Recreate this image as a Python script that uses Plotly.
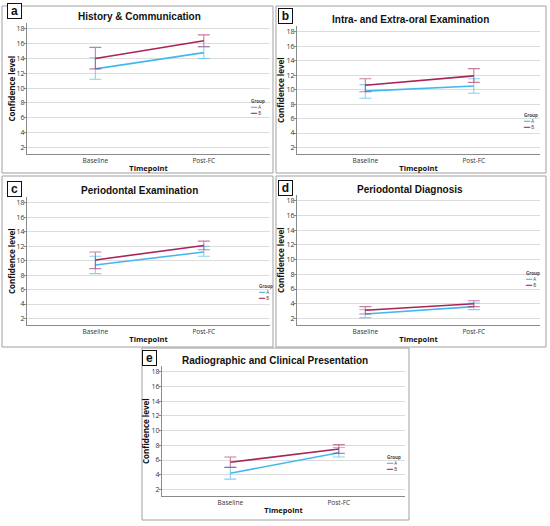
import plotly.graph_objects as go

# Confidence level, means and 95% CI
timepoints = ["Baseline", "Post-FC"]
titles = ["History & Communication", "Intra- and Extra-oral Examination",
          "Periodontal Examination", "Periodontal Diagnosis",
          "Radiographic and Clinical Presentation"]
letters = ["a", "b", "c", "d", "e"]

mean_a = [[12.6, 14.8], [9.8, 10.5], [9.4, 11.2], [2.6, 3.6], [4.2, 7.0]]
low_a = [[11.2, 14.0], [8.8, 9.5], [8.2, 10.6], [2.1, 3.2], [3.4, 6.4]]
high_a = [[14.1, 15.6], [10.7, 11.5], [10.6, 12.0], [3.2, 4.1], [5.0, 7.7]]

mean_b = [[14.0, 16.4], [10.6, 11.9], [10.1, 12.1], [3.1, 4.0], [5.7, 7.5]]
low_b = [[12.6, 15.6], [9.7, 11.0], [8.9, 11.5], [2.6, 3.6], [5.0, 6.9]]
high_b = [[15.5, 17.2], [11.5, 12.9], [11.2, 12.7], [3.6, 4.4], [6.4, 8.1]]

yticks = [2, 4, 6, 8, 10, 12, 14, 16, 18]

W, H = 550, 526
BLUE = "#44B8EE"
RED = "#A8245A"

# plot boxes in pixels: left, right, top, bottom
boxes = [(27, 270, 23, 154), (297, 540, 26, 154), (27, 270, 197, 325),
         (297, 540, 195, 325), (162, 405, 366, 496)]
frames = [(2, 273, 6, 173), (276, 546, 6, 173), (2, 273, 176, 347),
          (276, 546, 176, 347), (142, 409, 348, 520)]
title_pos = [(140, 16), (410, 20), (140, 190), (410, 189), (275, 360)]
letter_pos = [(14, 11), (285, 16), (14, 189), (285, 188), (149, 358)]
legend_pos = [(248, 99), (521, 113), (256, 284), (523, 271), (384, 455)]
ytitle_x = [11, 280, 11, 280, 145]


def px(x):
    return x / W


def py(y):
    return 1 - y / H


fig = go.Figure()
annotations = []
shapes = []

for i in range(5):
    xa = "x" if i == 0 else f"x{i + 1}"
    ya = "y" if i == 0 else f"y{i + 1}"
    for mean, low, high, color, err in [
        (mean_a[i], low_a[i], high_a[i], BLUE, "rgba(68,184,238,0.65)"),
        (mean_b[i], low_b[i], high_b[i], RED, "rgba(168,36,90,0.6)"),
    ]:
        fig.add_trace(go.Scatter(
            x=timepoints, y=mean, mode="lines", xaxis=xa, yaxis=ya,
            line=dict(color=color, width=1.6), showlegend=False,
            error_y=dict(type="data", symmetric=False,
                         array=[h - m for h, m in zip(high, mean)],
                         arrayminus=[m - l for m, l in zip(mean, low)],
                         color=err, thickness=1.1, width=6),
        ))

    l, r, t, b = boxes[i]
    axis_common = dict(showline=True, linecolor="#8a8a8a", linewidth=1)
    fig.layout[xa.replace("x", "xaxis")] = dict(
        domain=[px(l), px(r)], anchor=ya, type="category",
        range=[-0.63, 1.61], showgrid=False, ticks="",
        tickfont=dict(family="Open Sans", size=6.5, color="#333"),
        title=dict(text="<b>Timepoint</b>", standoff=1,
                   font=dict(family="Open Sans", size=7.5, color="#111")),
        **axis_common)
    fig.layout[ya.replace("y", "yaxis")] = dict(
        domain=[py(b), py(t)], anchor=xa, range=[1.1, 18.8],
        tickvals=yticks, showgrid=True, gridcolor="#dcdcdc", gridwidth=1,
        zeroline=False, ticks="outside", ticklen=2, tickcolor="#8a8a8a",
        ticklabelstandoff=-2,
        tickfont=dict(family="Open Sans", size=7, color="#333"),
        **axis_common)

    # y-axis title placed by hand, closer to the ticks than plotly allows
    annotations.append(dict(text="<b>Confidence level</b>", textangle=-90,
                            x=px(ytitle_x[i]), y=py((t + b) / 2),
                            xref="paper", yref="paper", showarrow=False,
                            xanchor="center", yanchor="middle",
                            font=dict(family="Open Sans", size=8, color="#111")))

    fl, fr, ft, fb = frames[i]
    shapes.append(dict(type="rect", xref="paper", yref="paper",
                       x0=px(fl), x1=px(fr), y0=py(fb), y1=py(ft),
                       line=dict(color="#a0a0a0", width=1), layer="below"))

    tx, ty = title_pos[i]
    annotations.append(dict(text="<b>" + titles[i].replace("&", "&amp;") + "</b>",
                            x=px(tx), y=py(ty), xref="paper", yref="paper",
                            showarrow=False, xanchor="center", yanchor="middle",
                            font=dict(family="Liberation Sans", size=10, color="#111")))

    lx, ly = letter_pos[i]
    annotations.append(dict(text="<b>" + letters[i] + "</b>",
                            x=px(lx), y=py(ly), xref="paper", yref="paper",
                            showarrow=False, xanchor="center", yanchor="middle",
                            bgcolor="white", bordercolor="#111", borderwidth=1,
                            borderpad=1, width=11, height=12,
                            font=dict(family="Liberation Sans", size=12, color="#111")))

    # small SPSS-style legend per panel
    gx, gy = legend_pos[i]
    annotations.append(dict(
        text=("<b>Group</b><br>"
              f"<span style='color:{BLUE}'><b>━━</b></span> A<br>"
              f"<span style='color:{RED}'><b>━━</b></span> B"),
        x=px(gx), y=py(gy - 3), xref="paper", yref="paper", showarrow=False,
        xanchor="left", yanchor="top", align="left",
        font=dict(family="Open Sans", size=4.5, color="#444")))

fig.update_layout(
    width=W, height=H, margin=dict(l=0, r=0, t=0, b=0),
    paper_bgcolor="white", plot_bgcolor="white",
    annotations=annotations, shapes=shapes,
)

fig.write_html("out.html", config={"displayModeBar": False},
               post_script="document.body.style.margin='0';")
